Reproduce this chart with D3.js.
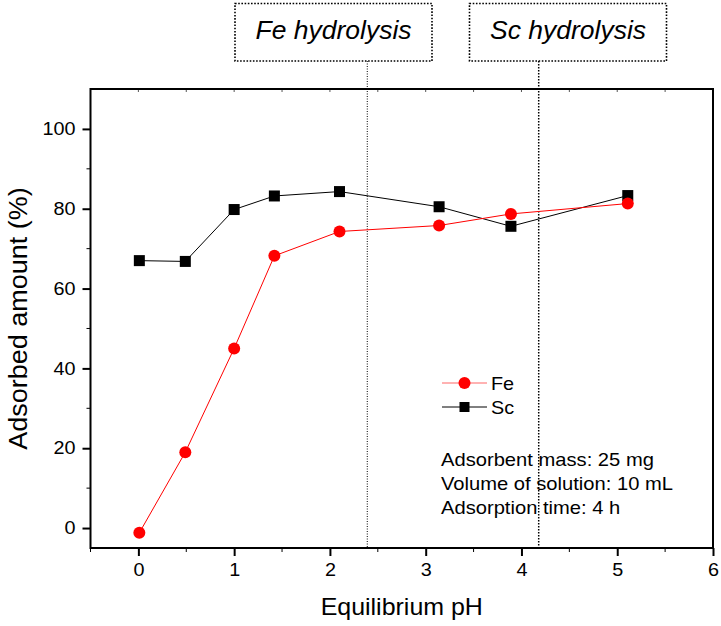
<!DOCTYPE html>
<html><head><meta charset="utf-8">
<script src="https://cdn.jsdelivr.net/npm/d3@7"></script>
<style>body{margin:0;background:#fff}svg{display:block}</style>
</head><body>
<svg id="c" width="721" height="626"></svg>
<script>
const phFe = [0.01, 0.49, 1.0, 1.42, 2.1, 3.14, 3.89, 5.11];
const fe   = [-1.2, 19.0, 45.0, 68.2, 74.3, 75.8, 78.7, 81.3];
const phSc = [0.01, 0.49, 1.0, 1.42, 2.1, 3.14, 3.89, 5.11];
const sc   = [67.0, 66.8, 79.8, 83.2, 84.3, 80.5, 75.6, 83.3];
const xTicks = [0, 1, 2, 3, 4, 5, 6];
const yTicks = [0, 20, 40, 60, 80, 100];
const hydrolysis = [{label: "Fe hydrolysis", ph: 2.39}, {label: "Sc hydrolysis", ph: 4.18}];
const notes = ["Adsorbent mass: 25 mg", "Volume of solution: 10 mL", "Adsorption time: 4 h"];

const svg = d3.select("#c");
const F = "Liberation Sans, Arial, sans-serif";
const L = 90.5, R = 713, T = 89, B = 548;
const x = d3.scaleLinear().domain([-0.5, 6]).range([L, R]);
const y = d3.scaleLinear().domain([-5, 110]).range([B, T]);

// text helper with slight horizontal stretch
function txt(px, py, s, size, sx, anchor, extra) {
  const t = svg.append("text").attr("transform", `translate(${px},${py}) scale(${sx},1)`)
    .attr("font-family", F).attr("font-size", size).attr("text-anchor", anchor || "start").text(s);
  if (extra) extra(t);
  return t;
}

// minor ticks
const xMinor = d3.range(-0.5, 6.01, 0.5).filter(v => !xTicks.includes(v));
svg.append("g").selectAll("line").data(xMinor).join("line")
  .attr("x1", d => x(d)).attr("x2", d => x(d)).attr("y1", B).attr("y2", B + 4)
  .attr("stroke", "#000").attr("stroke-width", 1);
svg.append("g").selectAll("line").data(d3.range(-0.5, 6.01, 0.5)).join("line")
  .attr("x1", d => x(d)).attr("x2", d => x(d)).attr("y1", T).attr("y2", T + 3)
  .attr("stroke", "#555").attr("stroke-width", 1);
const yMinor = d3.range(10, 110, 20);
svg.append("g").selectAll("line").data(yMinor).join("line")
  .attr("x1", L - 4).attr("x2", L).attr("y1", d => y(d)).attr("y2", d => y(d))
  .attr("stroke", "#000").attr("stroke-width", 1);

// axes
const xAxis = svg.append("g").attr("transform", `translate(0,${B})`)
  .call(d3.axisBottom(x).tickValues(xTicks).tickFormat(d3.format("d")).tickSize(8).tickPadding(7));
const yAxis = svg.append("g").attr("transform", `translate(${L},0)`)
  .call(d3.axisLeft(y).tickValues(yTicks).tickFormat(d3.format("d")).tickSize(8).tickPadding(7));
[xAxis, yAxis].forEach(g => {
  g.select(".domain").remove();
  g.selectAll(".tick line").attr("stroke-width", 2);
  g.selectAll("text").attr("font-family", F).attr("font-size", 18).attr("fill", "#000");
});
xAxis.selectAll(".tick text").attr("transform", "scale(1.1,1)");
yAxis.selectAll(".tick text").attr("transform", "translate(-14,0) scale(1.1,1) translate(14,0)");

// frame
svg.append("rect").attr("x", L).attr("y", T).attr("width", R - L).attr("height", B - T)
  .attr("fill", "none").attr("stroke", "#000").attr("stroke-width", 2);

// hydrolysis boxes and lines
hydrolysis.forEach((h, i) => {
  const cx = i === 0 ? 333.5 : 568;
  const w = 197, top = 3.5, bot = 61;
  svg.append("rect").attr("x", cx - w / 2).attr("y", top).attr("width", w).attr("height", bot - top)
    .attr("fill", "none").attr("stroke", "#000").attr("stroke-width", 1.6).attr("stroke-dasharray", "1.6,1.6");
  txt(cx, 39, h.label, 25, 1.06, "middle", t => t.attr("font-style", "italic"));
  svg.append("line").attr("x1", x(h.ph)).attr("x2", x(h.ph)).attr("y1", bot).attr("y2", B)
    .attr("stroke", "#000").attr("stroke-width", i === 0 ? 1 : 1.5).attr("stroke-dasharray", i === 0 ? "1,1.5" : "1.5,1.5");
});

// series
const line = d3.line();
const scPts = phSc.map((p, i) => [x(p), y(sc[i])]);
const fePts = phFe.map((p, i) => [x(p), y(fe[i])]);
svg.append("path").attr("d", line(scPts)).attr("fill", "none").attr("stroke", "#000").attr("stroke-width", 1);
svg.append("path").attr("d", line(fePts)).attr("fill", "none").attr("stroke", "#ff0000").attr("stroke-width", 1);
svg.append("g").selectAll("rect").data(scPts).join("rect")
  .attr("x", d => d[0] - 5.5).attr("y", d => d[1] - 5.5).attr("width", 11).attr("height", 11).attr("fill", "#000");
svg.append("g").selectAll("circle").data(fePts).join("circle")
  .attr("cx", d => d[0]).attr("cy", d => d[1]).attr("r", 6).attr("fill", "#ff0000");

// legend
const leg = [{name: "Fe", c: "#ff0000", y: 383, shape: "c"}, {name: "Sc", c: "#000", y: 407, shape: "s"}];
leg.forEach(l => {
  svg.append("line").attr("x1", 442).attr("x2", 487).attr("y1", l.y).attr("y2", l.y)
    .attr("stroke", l.c).attr("stroke-width", 1).attr("opacity", l.shape === "c" ? 0.6 : 1);
  if (l.shape === "c") svg.append("circle").attr("cx", 464.5).attr("cy", l.y).attr("r", 6).attr("fill", l.c);
  else svg.append("rect").attr("x", 459.5).attr("y", l.y - 5).attr("width", 10).attr("height", 10).attr("fill", l.c);
  txt(491, l.y + 6.5, l.name, 18, 1.1, "start");
});

// notes
notes.forEach((n, i) => txt(441, 466 + i * 24, n, 18, 1.12, "start"));

// axis titles
txt(x(2.75), 615, "Equilibrium pH", 24, 1.04, "middle");
svg.append("text").attr("transform", `translate(27,${(T + B) / 2}) rotate(-90) scale(1.08,1)`).attr("text-anchor", "middle")
  .attr("font-family", F).attr("font-size", 25).text("Adsorbed amount (%)");
</script>
</body></html>
